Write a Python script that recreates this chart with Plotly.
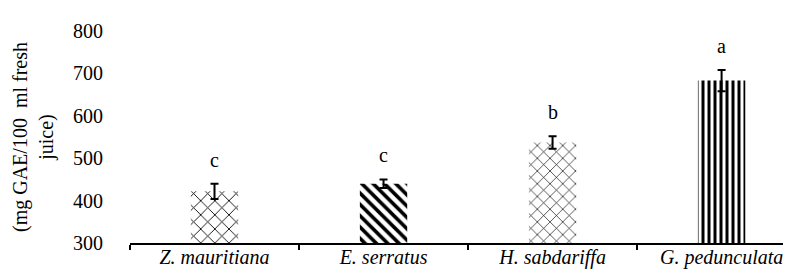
import plotly.graph_objects as go

categories = ["Z. mauritiana", "E. serratus", "H. sabdariffa", "G. pedunculata"]
values = [422, 440, 537, 683]
errors = [18, 10, 15, 25]
letters = ["c", "c", "b", "a"]
patterns = ["x", "\\", "x", "|"]
pattern_sizes = [10, 8, 9, 6]
pattern_solidity = [0.17, 0.45, 0.14, 0.5]

FONT = "Liberation Serif"

fig = go.Figure()
for i, cat in enumerate(categories):
    fig.add_trace(go.Bar(
        x=[cat], y=[values[i]], width=0.28,
        marker=dict(color="white", line=dict(width=0),
                    pattern=dict(shape=patterns[i], fgcolor="black", bgcolor="white",
                                 size=pattern_sizes[i], solidity=pattern_solidity[i],
                                 fillmode="replace")),
        error_y=dict(type="data", array=[errors[i]], color="black", thickness=2, width=4),
        showlegend=False,
    ))
    fig.add_annotation(x=cat, y=values[i] + errors[i], text=letters[i], showarrow=False,
                       yanchor="bottom", yshift=11, font=dict(family=FONT, size=20, color="black"))

fig.add_annotation(xref="paper", yref="paper", x=-0.145, y=0.5, textangle=-90,
                   text="(mg GAE/100 \u00a0ml fresh<br>juice)", showarrow=False,
                   xanchor="center", yanchor="middle",
                   font=dict(family=FONT, size=20, color="black"))

fig.update_layout(
    width=791, height=271,
    margin=dict(l=122, r=0, t=23, b=36),
    paper_bgcolor="white", plot_bgcolor="white",
    font=dict(family=FONT, size=20, color="black"),
    barmode="group",
    xaxis=dict(range=[-0.5, 3.458], showline=True, linecolor="black", linewidth=1.5,
               ticks="outside", tickson="boundaries", ticklen=5, tickcolor="black",
               tickwidth=1.5, showgrid=False, ticklabelstandoff=-5,
               tickfont=dict(family=FONT, size=20, style="italic", color="black")),
    yaxis=dict(range=[300, 800], dtick=100, showline=False, ticks="", showgrid=False,
               zeroline=False, ticklabelstandoff=26,
               tickfont=dict(family=FONT, size=20, color="black")),
)

fig.write_html("out.html")
